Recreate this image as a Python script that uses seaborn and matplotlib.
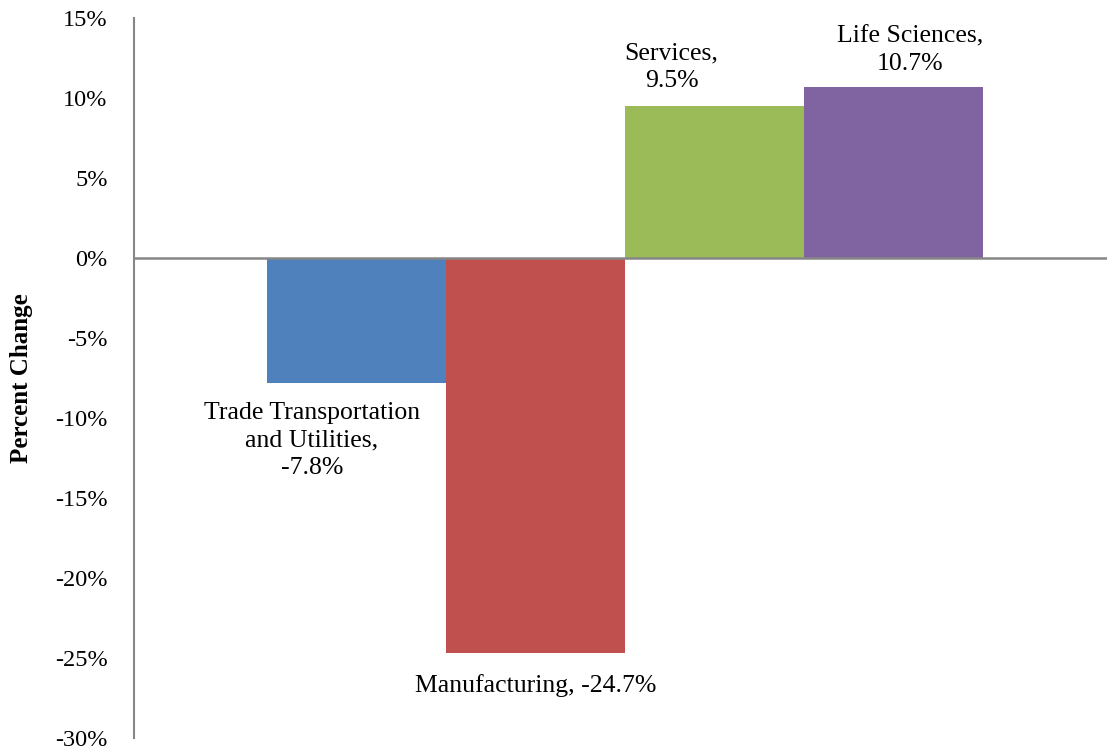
import matplotlib
matplotlib.use("Agg")
import matplotlib.pyplot as plt
import seaborn as sns
import pandas as pd
from matplotlib.ticker import FuncFormatter

categories = ["Trade Transportation and Utilities", "Manufacturing", "Services", "Life Sciences"]
values = [-7.8, -24.7, 9.5, 10.7]
colors = ["#4F81BD", "#C0504D", "#9BBB59", "#8064A2"]
label_texts = ["Trade Transportation\nand Utilities,\n-7.8%", "Manufacturing, -24.7%",
               "Services,\n9.5%", "Life Sciences,\n10.7%"]
yticks = [15, 10, 5, 0, -5, -10, -15, -20, -25, -30]

sns.set_style("white")
plt.rcParams['font.family'] = ['Liberation Serif', 'DejaVu Serif']
plt.rcParams['text.color'] = 'black'
plt.rcParams['ytick.color'] = 'black'
plt.rcParams['axes.labelcolor'] = 'black'

df = pd.DataFrame({"cat": categories, "val": values})

fig = plt.figure(figsize=(11.09, 7.52), dpi=100)
ax = fig.add_axes([0.1208, 0.0186, 0.8772, 0.9574])

sns.barplot(data=df, x="cat", y="val", hue="cat", palette=colors, width=1.0,
            legend=False, ax=ax, saturation=1, edgecolor="none", linewidth=0)

ax.set_ylim(-30, 15)
ax.set_xlim(-1.243, 4.19)
ax.set_yticks(yticks)
ax.yaxis.set_major_formatter(FuncFormatter(lambda v, p: f"{int(v)}%"))
ax.tick_params(axis="y", length=0, pad=19, labelsize=17.5, labelcolor="black")
ax.set_xticks([])
ax.set_xlabel("")
ax.set_ylabel("Percent Change", fontsize=18, fontweight="bold", labelpad=16, color="black")

for s in ["top", "right", "bottom"]:
    ax.spines[s].set_visible(False)
ax.spines["left"].set_color("#868686")
ax.spines["left"].set_linewidth(1.5)
ax.axhline(0, color="#868686", lw=1.8, zorder=3)

# label positions (x offset from bar center, y in data units)
lab_pos = [(-0.25, -11.4), (0.0, -26.7), (-0.24, 11.9), (0.09, 13.0)]
for i, (t, (dx, yy)) in enumerate(zip(label_texts, lab_pos)):
    ax.text(i + dx, yy, t, ha="center", va="center", fontsize=18.5,
            linespacing=1.33, color="black")

fig.savefig("out.png", dpi=100)
